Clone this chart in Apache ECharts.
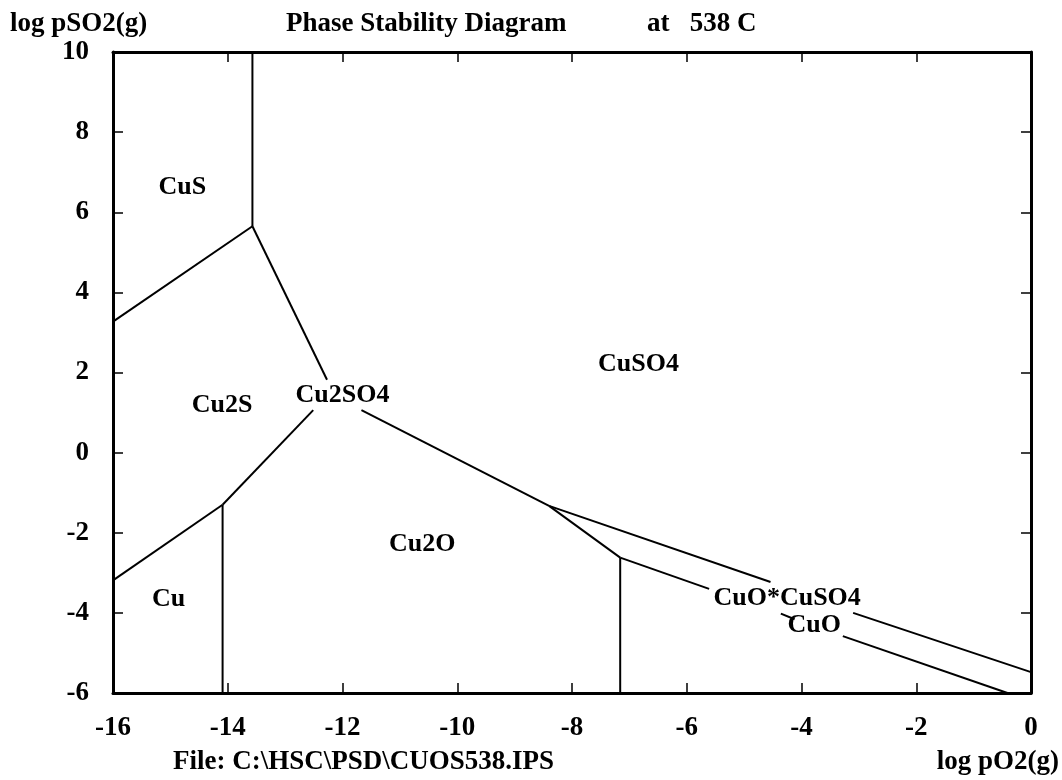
<!DOCTYPE html>
<html>
<head>
<meta charset="utf-8">
<script src="https://cdn.jsdelivr.net/npm/echarts@6/dist/echarts.min.js"></script>
<style>
  html, body { margin: 0; padding: 0; background: #fff; }
  #chart { width: 1062px; height: 780px; }
</style>
</head>
<body>
<div id="chart"></div>
<script>
  // axis ranges (log pO2 on x, log pSO2 on y)
  const xTicks = [-16, -14, -12, -10, -8, -6, -4, -2, 0]
  const yTicks = [-6, -4, -2, 0, 2, 4, 6, 8, 10]

  // phase boundaries, [log pO2, log pSO2] pairs
  const cusCuso4 = [[-13.57, 10], [-13.57, 5.65]]
  const cusCu2s = [[-16, 3.27], [-13.57, 5.65]]
  const cu2sCuso4 = [[-13.57, 5.65], [-12.27, 1.82]]
  const cuCu2s = [[-16, -3.19], [-14.09, -1.30]]
  const cuCu2o = [[-14.09, -1.30], [-14.09, -6]]
  const cu2sCu2o = [[-14.09, -1.30], [-12.51, 1.06]]
  const cu2oCuso4 = [[-11.67, 1.06], [-8.4, -1.33]]
  const cuso4Basic1 = [[-8.4, -1.33], [-4.54, -3.23]]
  const cuso4Basic2 = [[-3.1, -4.0], [0, -5.48]]
  const cu2oBasic = [[-8.4, -1.33], [-7.16, -2.62]]
  const cu2oCuo = [[-7.16, -2.62], [-7.16, -6]]
  const basicCuo1 = [[-7.16, -2.62], [-5.61, -3.4]]
  const basicCuo2 = [[-4.36, -4.02], [-4.12, -4.16]]
  const basicCuo3 = [[-3.28, -4.58], [-0.41, -6]]

  const boundaries = [cusCuso4, cusCu2s, cu2sCuso4, cuCu2s, cuCu2o, cu2sCu2o,
    cu2oCuso4, cuso4Basic1, cuso4Basic2, cu2oBasic, cu2oCuo, basicCuo1, basicCuo2, basicCuo3]

  // phase names and where they sit
  const phaseNames = ['CuS', 'Cu2S', 'Cu2SO4', 'CuSO4', 'Cu2O', 'Cu', 'CuO*CuSO4', 'CuO']
  const phaseX = [-14.79, -14.1, -12.0, -6.84, -10.61, -15.03, -4.25, -3.78]
  const phaseY = [6.62, 1.17, 1.43, 2.2, -2.28, -3.65, -3.63, -4.31]

  const serif = '"Liberation Serif", "Times New Roman", serif'
  const chart = echarts.init(document.getElementById('chart'))

  const axisCommon = {
    type: 'value',
    splitLine: { show: false },
    axisLine: { show: true, onZero: false, lineStyle: { color: '#000', width: 3 } },
    axisTick: { show: true, inside: true, length: 10, lineStyle: { color: '#000', width: 1.5 } }
  }
  const tickFont = { fontFamily: serif, fontWeight: 'bold', fontSize: 27, lineHeight: 27, color: '#000' }

  const series = boundaries.map(function (seg) {
    return {
      type: 'line',
      data: seg,
      symbol: 'none',
      silent: true,
      lineStyle: { color: '#000', width: 2 }
    }
  })

  const option = {
    animation: false,
    backgroundColor: '#fff',
    grid: { left: 113, right: 31, top: 52, bottom: 87 },
    xAxis: [
      Object.assign({}, axisCommon, {
        position: 'bottom', min: -16, max: 0, interval: 2,
        axisLabel: Object.assign({
          margin: 22,
          formatter: function (v) { return xTicks.indexOf(v) >= 0 ? String(v) : '' }
        }, tickFont)
      }),
      Object.assign({}, axisCommon, {
        position: 'top', min: -16, max: 0, interval: 2,
        axisLabel: { show: false }
      })
    ],
    yAxis: [
      Object.assign({}, axisCommon, {
        position: 'left', min: -6, max: 10, interval: 2,
        axisLabel: Object.assign({
          margin: 24,
          formatter: function (v) { return yTicks.indexOf(v) >= 0 ? String(v) : '' }
        }, tickFont)
      }),
      Object.assign({}, axisCommon, {
        position: 'right', min: -6, max: 10, interval: 2,
        axisLabel: { show: false }
      })
    ],
    graphic: [
      { id: 'ylab', type: 'text', left: 10, top: 11, style: { text: 'log pSO2(g)', font: 'bold 27px ' + serif, fill: '#000' } },
      { id: 'title', type: 'text', left: 286, top: 11, style: { text: 'Phase Stability Diagram', font: 'bold 27px ' + serif, fill: '#000' } },
      { id: 'temp', type: 'text', left: 647, top: 11, style: { text: 'at   538 C', font: 'bold 27px ' + serif, fill: '#000' } },
      { id: 'file', type: 'text', left: 173, top: 749, style: { text: 'File: C:\\HSC\\PSD\\CUOS538.IPS', font: 'bold 27px ' + serif, fill: '#000' } },
      { id: 'xlab', type: 'text', right: 3, top: 749, style: { text: 'log pO2(g)', font: 'bold 27px ' + serif, fill: '#000' } }
    ],
    series: series
  }

  chart.setOption(option)

  // phase names placed through the chart's own scales
  const phaseLabels = phaseNames.map(function (n, i) {
    const p = chart.convertToPixel({ xAxisIndex: 0, yAxisIndex: 0 }, [phaseX[i], phaseY[i]])
    return {
      id: 'phase' + i,
      type: 'text',
      x: p[0],
      y: p[1],
      style: {
        text: n,
        font: 'bold 26px ' + serif,
        fill: '#000',
        align: 'center',
        verticalAlign: 'middle'
      }
    }
  })
  chart.setOption({ graphic: phaseLabels })

  window.onresize = function () { chart.resize() }
</script>
</body>
</html>
